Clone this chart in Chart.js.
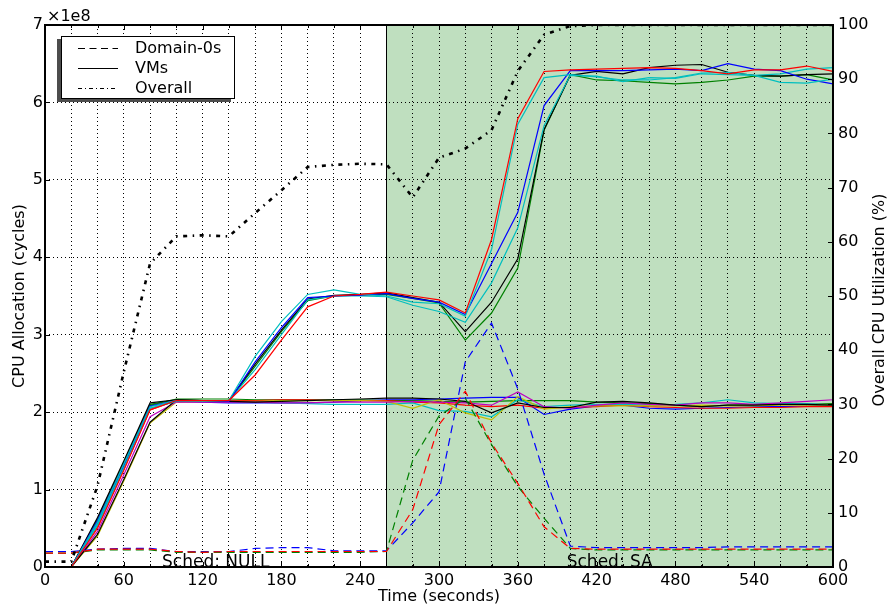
<!DOCTYPE html>
<html>
<head>
<meta charset="utf-8">
<script src="https://cdn.jsdelivr.net/npm/chart.js@4.4.0/dist/chart.umd.min.js"></script>
<style>
  html, body { margin: 0; padding: 0; background: #ffffff; }
  canvas { display: block; }
</style>
</head>
<body>
<canvas id="chart" width="890" height="607"></canvas>
<script>
// Sample times (seconds)
const times = [0,20,40,60,80,100,120,140,160,180,200,220,240,260,280,300,320,340,360,380,400,420,440,460,480,500,520,540,560,580,600];

// Scheduler switches from NULL to SA at this time (seconds)
const schedSwitch = 260;
const schedLabels = [
  { text: 'Sched: NULL', at: 130 },
  { text: 'Sched: SA', at: 430 }
];

// Overall CPU utilisation (%), right axis
const overallPct = [1,1,15,36,56,61,61.2,61,65.3,69.5,73.8,74.2,74.4,74.3,68.2,75.5,77.2,80.6,91.5,98.2,99.8,100,100,100,100,100,100,100,100,100,100];

// Domain-0 allocations (units of 1e8 cycles)
const dom0Blue  = [0.20,0.20,0.23,0.24,0.24,0.20,0.20,0.20,0.24,0.25,0.25,0.21,0.21,0.21,0.57,0.97,2.65,3.15,2.30,1.20,0.27,0.25,0.25,0.25,0.25,0.25,0.26,0.26,0.26,0.26,0.26];
const dom0Red   = [0.18,0.18,0.23,0.23,0.23,0.20,0.19,0.20,0.20,0.20,0.20,0.20,0.20,0.20,0.74,1.84,2.27,1.60,1.08,0.52,0.24,0.23,0.23,0.23,0.23,0.23,0.23,0.23,0.23,0.23,0.23];
const dom0Green = [0.18,0.18,0.22,0.22,0.22,0.19,0.19,0.19,0.19,0.19,0.19,0.19,0.19,0.20,1.38,1.95,2.18,1.58,1.04,0.63,0.24,0.22,0.22,0.22,0.22,0.22,0.22,0.22,0.22,0.22,0.22];

// VM allocations (units of 1e8 cycles) - VMs that receive extra demand
const vmUpRed   = [0,0,0.50,1.25,2.03,2.15,2.15,2.15,2.48,2.93,3.36,3.50,3.52,3.55,3.50,3.45,3.28,4.23,5.79,6.40,6.42,6.43,6.44,6.45,6.44,6.41,6.37,6.42,6.42,6.47,6.40];
const vmUpCyanA = [0,0,0.58,1.33,2.07,2.15,2.14,2.15,2.72,3.17,3.52,3.58,3.52,3.50,3.42,3.40,3.24,4.10,5.72,6.32,6.36,6.33,6.29,6.29,6.32,6.38,6.39,6.35,6.26,6.25,6.30];
const vmUpBlue  = [0,0,0.60,1.32,2.08,2.15,2.15,2.14,2.65,3.09,3.48,3.50,3.51,3.53,3.47,3.42,3.26,3.92,4.58,5.96,6.41,6.41,6.41,6.42,6.43,6.41,6.50,6.43,6.41,6.30,6.24];
const vmUpCyanB = [0,0,0.55,1.28,2.05,2.14,2.15,2.15,2.55,3.00,3.45,3.50,3.50,3.49,3.38,3.30,3.16,3.67,4.38,5.70,6.35,6.34,6.27,6.32,6.31,6.37,6.36,6.35,6.37,6.43,6.45];
const vmUpBlack = [0,0,0.64,1.37,2.12,2.16,2.15,2.15,2.62,3.06,3.46,3.51,3.52,3.54,3.48,3.42,3.04,3.42,3.98,5.65,6.35,6.40,6.37,6.45,6.48,6.49,6.39,6.35,6.34,6.36,6.37];
const vmUpGreen = [0,0,0.62,1.35,2.10,2.16,2.15,2.15,2.59,3.04,3.44,3.50,3.51,3.52,3.47,3.41,2.93,3.28,3.86,5.64,6.36,6.29,6.28,6.26,6.24,6.26,6.29,6.34,6.34,6.36,6.29];

// VM allocations (units of 1e8 cycles) - VMs with steady demand
const vmLoBlue    = [0,0,0.56,1.30,2.08,2.14,2.13,2.12,2.12,2.12,2.12,2.13,2.15,2.16,2.16,2.17,2.18,2.19,2.19,1.97,2.04,2.08,2.09,2.05,2.04,2.05,2.06,2.07,2.07,2.08,2.09];
const vmLoGreen   = [0,0,0.60,1.33,2.09,2.17,2.17,2.17,2.16,2.16,2.16,2.16,2.16,2.15,2.15,2.14,2.13,2.14,2.15,2.15,2.15,2.13,2.12,2.11,2.09,2.07,2.09,2.09,2.10,2.10,2.11];
const vmLoRed     = [0,0,0.52,1.26,2.03,2.15,2.15,2.15,2.15,2.16,2.16,2.15,2.15,2.15,2.13,2.12,2.09,2.07,2.09,2.05,2.06,2.07,2.09,2.07,2.06,2.05,2.05,2.06,2.06,2.07,2.07];
const vmLoCyan    = [0,0,0.54,1.28,2.05,2.14,2.14,2.14,2.13,2.12,2.11,2.10,2.10,2.10,2.12,2.02,2.01,1.94,2.16,2.07,2.09,2.10,2.10,2.09,2.10,2.12,2.16,2.12,2.11,2.11,2.09];
const vmLoMagenta = [0,0,0.46,1.19,1.94,2.13,2.13,2.13,2.13,2.12,2.12,2.13,2.13,2.13,2.14,2.13,2.12,2.09,2.26,2.07,2.05,2.09,2.12,2.10,2.09,2.12,2.12,2.10,2.12,2.14,2.16];
const vmLoYellow  = [0,0,0.40,1.11,1.86,2.13,2.14,2.14,2.14,2.15,2.15,2.15,2.15,2.14,2.05,2.16,1.99,1.90,2.20,2.04,2.07,2.08,2.08,2.08,2.08,2.09,2.08,2.08,2.09,2.09,2.09];
const vmLoBlack   = [0,0,0.42,1.13,1.87,2.16,2.15,2.14,2.13,2.14,2.15,2.16,2.17,2.18,2.18,2.17,2.14,1.99,2.12,2.06,2.06,2.13,2.14,2.12,2.09,2.07,2.09,2.09,2.10,2.10,2.09];

// Tick label values
const xTickLabels = [0,60,120,180,240,300,360,420,480,540,600];
const yTickLabels = [0,1,2,3,4,5,6,7];
const y2TickLabels = [0,10,20,30,40,50,60,70,80,90,100];

// Classic line colours
const C = { b: '#0000ff', g: '#008000', r: '#ff0000', c: '#00bfbf', m: '#bf00bf', y: '#bfbf00', k: '#000000' };
const FONT = '"DejaVu Sans", "Liberation Sans", sans-serif';

const pts = arr => arr.map((v, i) => ({ x: times[i], y: v }));

function vm(arr, color) {
  return { data: pts(arr), borderColor: color, borderWidth: 1.2, yAxisID: 'y', order: 2 };
}
function dom0(arr, color) {
  return { data: pts(arr), borderColor: color, borderWidth: 1.2, borderDash: [8, 5], yAxisID: 'y', order: 1 };
}

const datasets = [
  { data: pts(overallPct), borderColor: '#000000', borderWidth: 2.6, borderDash: [4, 5.5, 1.5, 5.5], borderCapStyle: 'butt', yAxisID: 'y2', order: 0 },
  dom0(dom0Red, C.r),
  dom0(dom0Green, C.g),
  dom0(dom0Blue, C.b),
  vm(vmUpRed, C.r),
  vm(vmUpCyanA, C.c),
  vm(vmUpBlue, C.b),
  vm(vmUpCyanB, C.c),
  vm(vmUpBlack, C.k),
  vm(vmUpGreen, C.g),
  vm(vmLoBlack, C.k),
  vm(vmLoMagenta, C.m),
  vm(vmLoYellow, C.y),
  vm(vmLoCyan, C.c),
  vm(vmLoRed, C.r),
  vm(vmLoGreen, C.g),
  vm(vmLoBlue, C.b)
];

// Shaded SA period, frame, inward ticks, titles, annotations and legend
const decorations = {
  id: 'decorations',
  beforeDraw(chart) {
    const { ctx, chartArea: a, scales: { x } } = chart;
    const x0 = x.getPixelForValue(schedSwitch);
    const x1 = x.getPixelForValue(600);
    ctx.save();
    ctx.fillStyle = '#bfdfbf';
    ctx.fillRect(x0, a.top, x1 - x0, a.bottom - a.top);
    ctx.restore();
  },
  beforeDatasetsDraw(chart) {
    const { ctx, chartArea: a, scales: { x } } = chart;
    const x0 = Math.round(x.getPixelForValue(schedSwitch)) + 0.5;
    ctx.save();
    ctx.strokeStyle = '#000';
    ctx.lineWidth = 1;
    ctx.beginPath();
    ctx.moveTo(x0, a.top);
    ctx.lineTo(x0, a.bottom);
    ctx.stroke();
    ctx.restore();
  },
  afterDraw(chart) {
    const { ctx, chartArea: a, scales: { x, y, y2 } } = chart;
    ctx.save();

    // annotations along the bottom
    ctx.fillStyle = '#000';
    ctx.font = '17px ' + FONT;
    ctx.textAlign = 'center';
    ctx.textBaseline = 'alphabetic';
    schedLabels.forEach(s => ctx.fillText(s.text, x.getPixelForValue(s.at), a.bottom - 0.5));

    // inward tick marks
    ctx.strokeStyle = '#000';
    ctx.lineWidth = 1;
    ctx.beginPath();
    times.forEach(t => {
      const px = Math.round(x.getPixelForValue(t)) + 0.5;
      const len = t % 60 === 0 ? 5 : 3;
      ctx.moveTo(px, a.bottom); ctx.lineTo(px, a.bottom - len);
      ctx.moveTo(px, a.top); ctx.lineTo(px, a.top + len);
    });
    yTickLabels.forEach(v => {
      const py = Math.round(y.getPixelForValue(v)) + 0.5;
      ctx.moveTo(a.left, py); ctx.lineTo(a.left + 5, py);
    });
    y2TickLabels.forEach(v => {
      const py = Math.round(y2.getPixelForValue(v)) + 0.5;
      ctx.moveTo(a.right, py); ctx.lineTo(a.right - 5, py);
    });
    ctx.stroke();

    // frame
    ctx.lineWidth = 2;
    ctx.strokeRect(a.left, a.top, a.right - a.left, a.bottom - a.top);

    // axis titles
    ctx.fillStyle = '#000';
    ctx.font = '16px ' + FONT;
    ctx.textAlign = 'center';
    ctx.textBaseline = 'middle';
    ctx.fillText('Time (seconds)', (a.left + a.right) / 2, 597);
    ctx.save();
    ctx.translate(20, (a.top + a.bottom) / 2);
    ctx.rotate(-Math.PI / 2);
    ctx.fillText('CPU Allocation (cycles)', 0, 0);
    ctx.restore();
    ctx.save();
    ctx.translate(880, (a.top + a.bottom) / 2 + 4);
    ctx.rotate(-Math.PI / 2);
    ctx.fillText('Overall CPU Utilization (%)', 0, 0);
    ctx.restore();

    // axis multiplier
    ctx.textAlign = 'left';
    ctx.textBaseline = 'alphabetic';
    ctx.fillText('\u00d71e8', a.left + 2, a.top - 4);

    // legend with shadow
    const lx = a.left + 16, ly = a.top + 11, lw = 174, lh = 63;
    ctx.fillStyle = '#4d4d4d';
    ctx.fillRect(lx - 4, ly + 3, lw, lh);
    ctx.fillStyle = '#ffffff';
    ctx.fillRect(lx, ly, lw, lh);
    ctx.strokeStyle = '#000';
    ctx.lineWidth = 1;
    ctx.strokeRect(lx + 0.5, ly + 0.5, lw - 1, lh - 1);

    const entries = [
      { label: 'Domain-0s', dash: [7, 4.5] },
      { label: 'VMs', dash: [] },
      { label: 'Overall', dash: [4, 3, 1, 3] }
    ];
    entries.forEach((e, i) => {
      const cy = ly + 12.5 + i * 20;
      ctx.beginPath();
      ctx.setLineDash(e.dash);
      ctx.strokeStyle = '#000';
      ctx.lineWidth = 1;
      ctx.moveTo(lx + 17, cy);
      ctx.lineTo(lx + 57, cy);
      ctx.stroke();
      ctx.setLineDash([]);
      ctx.fillStyle = '#000';
      ctx.textBaseline = 'middle';
      ctx.textAlign = 'left';
      ctx.fillText(e.label, lx + 74, cy);
    });

    ctx.restore();
  }
};

const gridStyle = { color: '#000000', lineWidth: 1, drawTicks: false };

new Chart(document.getElementById('chart'), {
  type: 'line',
  data: { datasets },
  options: {
    responsive: false,
    animation: false,
    layout: { padding: { top: 25, left: 0, right: 0, bottom: 0 } },
    elements: { point: { radius: 0, hoverRadius: 0 }, line: { tension: 0, fill: false } },
    plugins: { legend: { display: false }, tooltip: { enabled: false } },
    events: [],
    scales: {
      x: {
        type: 'linear', position: 'bottom', min: 0, max: 600,
        ticks: {
          stepSize: 20, autoSkip: false, maxRotation: 0, padding: 4,
          color: '#000', font: { family: FONT, size: 16 },
          callback: v => xTickLabels.includes(v) ? String(v) : ''
        },
        grid: gridStyle,
        border: { display: false, dash: [1, 3] },
        afterFit: s => { s.height = 40; }
      },
      y: {
        position: 'left', min: 0, max: 7,
        ticks: {
          stepSize: 1, padding: 2, color: '#000', font: { family: FONT, size: 16 },
          callback: v => yTickLabels.includes(v) ? String(v) : ''
        },
        grid: gridStyle,
        border: { display: false, dash: [1, 3] },
        afterFit: s => { s.width = 45; }
      },
      y2: {
        position: 'right', min: 0, max: 100,
        ticks: {
          stepSize: 10, padding: 5, color: '#000', font: { family: FONT, size: 16 },
          callback: v => y2TickLabels.includes(v) ? String(v) : ''
        },
        grid: { display: false, drawTicks: false },
        border: { display: false },
        afterFit: s => { s.width = 57; }
      }
    }
  },
  plugins: [decorations]
});
</script>
</body>
</html>
